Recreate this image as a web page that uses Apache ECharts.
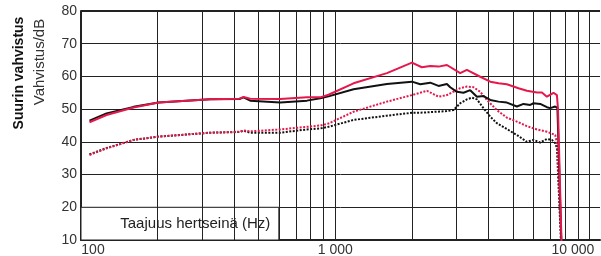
<!DOCTYPE html>
<html>
<head>
<meta charset="utf-8">
<script src="https://cdn.jsdelivr.net/npm/echarts@6/dist/echarts.min.js"></script>
<style>
html,body{margin:0;padding:0;background:#fff;}
#c{width:601px;height:256px;}
</style>
</head>
<body>
<div id="c"></div>
<script>
// ---- data (frequency Hz, gain dB) ----
const solidBlack = [[108,46.5],[126,48.7],[161,50.7],[202,52.0],[322,53.0],[420,53.1],[436,53.6],[463,52.6],[608,52.0],[774,52.6],[873,53.3],[941,53.9],[1180,56.1],[1597,57.7],[2003,58.4],[2160,57.6],[2364,58.1],[2548,57.1],[2749,57.7],[2833,56.7],[3010,55.3],[3195,55.0],[3395,55.8],[3608,53.8],[3830,54.0],[4071,52.8],[4387,52.3],[4733,52.0],[5183,50.8],[5503,51.6],[5847,51.3],[6025,51.8],[6402,51.6],[6801,50.6],[7008,50.3],[7332,50.8],[7480,50.4],[7760,8]];
const solidRed = [[108,46.0],[126,48.2],[161,50.5],[202,52.0],[322,53.0],[420,53.2],[436,53.7],[463,53.2],[608,53.1],[774,53.6],[873,53.6],[941,54.4],[1180,57.9],[1597,61.0],[2003,64.2],[2190,62.8],[2364,63.2],[2548,63.0],[2749,63.5],[3101,61.0],[3295,62.0],[3718,59.9],[4071,58.4],[4387,57.9],[4733,57.6],[5259,56.4],[5674,55.6],[6214,55.1],[6501,55.1],[6801,53.8],[7219,55.0],[7446,54.3],[7520,50.0],[7770,8]];
const dottedRed = [[108,36.0],[126,38.0],[161,40.6],[202,41.6],[322,42.8],[420,43.1],[436,43.5],[463,43.2],[608,43.8],[774,44.6],[873,45.0],[941,45.6],[1180,49.2],[1597,52.3],[2003,54.3],[2295,55.6],[2548,53.8],[2749,54.3],[2833,54.8],[3101,56.4],[3295,56.9],[3498,56.7],[3718,55.3],[3950,52.8],[4324,49.7],[4733,47.4],[5183,46.2],[5674,44.8],[6214,43.8],[6801,43.1],[7332,42.1],[7480,39.0],[7760,8]];
const dottedBlack = [[108,36.2],[126,38.1],[161,40.6],[202,41.6],[322,42.8],[420,43.0],[436,43.4],[463,42.8],[608,42.8],[774,43.8],[873,44.1],[941,44.6],[1180,46.7],[1597,48.0],[2003,48.9],[2160,48.9],[2749,49.4],[2919,49.7],[3101,51.8],[3295,53.0],[3448,53.5],[3608,53.0],[3830,50.3],[4071,47.7],[4324,45.7],[4733,43.9],[5183,42.1],[5674,40.0],[6025,40.6],[6402,39.8],[6801,40.9],[7115,40.6],[7332,39.6],[7450,38.0],[7740,8]];

// ---- axes / ticks ----
const xMin = 100, xMax = 11000;
const yMin = 10, yMax = 80, yStep = 10;
const xTickLabels = {100: '100', 1000: '1 000', 10000: '10 000'};
const gridFreqs = [200,300,400,500,600,700,800,900,1000,2000,3000,4000,5000,6000,7000,8000,9000,10000];
const yTitle = 'Vahvistus/dB';
const yTitleBold = 'Suurin vahvistus';
const xTitle = 'Taajuus hertseinä (Hz)';
const boxRange = [[100, 10], [600, 20]];

const RED = '#e5184c';
const BLACK = '#111111';
const FONT = '"Liberation Sans", Arial, sans-serif';

const chart = echarts.init(document.getElementById('c'), null, {renderer: 'canvas'});

function lineSeries(data, color, dotted, z) {
  return {
    type: 'line', data: data, showSymbol: false, symbol: 'none', smooth: false,
    clip: true, z: z, silent: true, animation: false,
    lineStyle: {color: color, width: 2, type: dotted ? [2, 1.5] : 'solid', cap: 'butt'}
  };
}

chart.setOption({
  animation: false,
  backgroundColor: '#fff',
  grid: {left: 81, right: 1, top: 11, bottom: 16, containLabel: false, outerBoundsMode: 'none'},
  xAxis: {
    type: 'log', logBase: 10, min: xMin, max: xMax,
    axisLine: {show: true, onZero: false, lineStyle: {color: '#222', width: 2}},
    axisTick: {show: false},
    splitLine: {show: false},
    minorTick: {show: false}, minorSplitLine: {show: false},
    axisLabel: {
      show: true, margin: 3, color: '#333', fontSize: 14, fontFamily: FONT,
      showMinLabel: true, showMaxLabel: true,
      formatter: function (v) {
        const r = Math.round(v);
        if (r === 100) return '{a|' + xTickLabels[100] + '}';
        if (r === 1000) return xTickLabels[1000];
        if (r === 10000) return '{b|' + xTickLabels[10000] + '}';
        return '';
      },
      rich: {
        a: {fontSize: 14, color: '#333', fontFamily: FONT, padding: [0, 0, 0, 24]},
        b: {fontSize: 14, color: '#333', fontFamily: FONT, padding: [0, 33, 0, 0]}
      }
    }
  },
  yAxis: {
    type: 'value', min: yMin, max: yMax, interval: yStep,
    axisLine: {show: true, lineStyle: {color: '#222', width: 2}},
    axisTick: {show: false},
    splitLine: {show: true, lineStyle: {color: '#222', width: 1}},
    axisLabel: {margin: 4, color: '#333', fontSize: 14, fontFamily: FONT}
  },
  graphic: [
    {type: 'text', x: 19, y: 73, rotation: Math.PI / 2, silent: true,
     style: {text: yTitleBold, font: 'bold 14px ' + FONT, fill: '#111', textAlign: 'center', textVerticalAlign: 'middle'}},
    {type: 'text', x: 40, y: 62, rotation: Math.PI / 2, silent: true,
     style: {text: yTitle, font: '15px ' + FONT, fill: '#333', textAlign: 'center', textVerticalAlign: 'middle'}}
  ],
  series: [
    {
      type: 'line', data: [], z: 1, silent: true,
      markLine: {
        silent: true, symbol: 'none', animation: false,
        label: {show: false},
        lineStyle: {color: '#222', width: 1, type: 'solid'},
        data: gridFreqs.map(f => ({xAxis: f})).concat([{yAxis: yMax, lineStyle: {width: 2, color: '#222'}}])
      }
    },
    {
      type: 'line', data: [], z: 3, silent: true,
      markArea: {
        silent: true, animation: false,
        itemStyle: {color: '#ffffff', borderColor: '#222', borderWidth: 1},
        label: {show: true, position: 'insideRight', distance: 9, color: '#222', fontSize: 15, fontFamily: FONT},
        data: [[{name: xTitle, coord: boxRange[0]}, {coord: boxRange[1]}]]
      }
    },
    lineSeries(dottedBlack, BLACK, true, 4),
    lineSeries(dottedRed, RED, true, 5),
    lineSeries(solidBlack, BLACK, false, 6),
    lineSeries(solidRed, RED, false, 7)
  ]
});
</script>
</body>
</html>
